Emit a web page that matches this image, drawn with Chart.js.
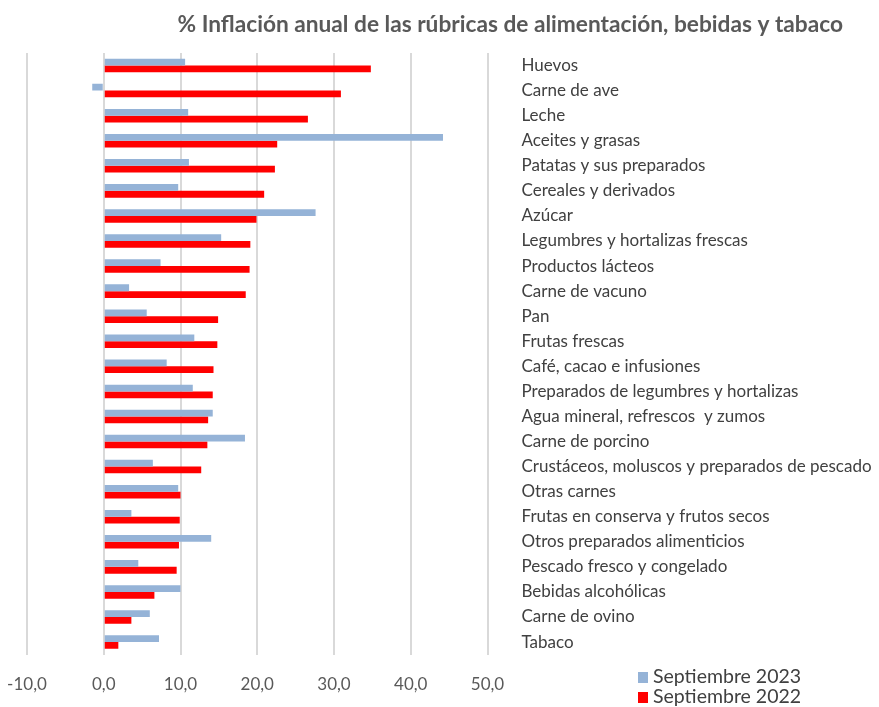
<!DOCTYPE html>
<html>
<head>
<meta charset="utf-8">
<script src="https://cdn.jsdelivr.net/npm/chart.js@4.4.1/dist/chart.umd.min.js"></script>
<style>
  html, body { margin: 0; padding: 0; background: #fff; }
</style>
</head>
<body>
<canvas id="inflChart" width="879" height="707"></canvas>
<script>
// Rubricas (de arriba a abajo)
const categories = [
    'Huevos', 'Carne de ave', 'Leche', 'Aceites y grasas', 'Patatas y sus preparados',
    'Cereales y derivados', 'Azúcar', 'Legumbres y hortalizas frescas', 'Productos lácteos',
    'Carne de vacuno', 'Pan', 'Frutas frescas', 'Café, cacao e infusiones',
    'Preparados de legumbres y hortalizas', 'Agua mineral, refrescos  y zumos', 'Carne de porcino',
    'Crustáceos, moluscos y preparados de pescado', 'Otras carnes', 'Frutas en conserva y frutos secos',
    'Otros preparados alimenticios', 'Pescado fresco y congelado', 'Bebidas alcohólicas',
    'Carne de ovino', 'Tabaco'
];

// % inflacion anual
const sep2023 = [10.6, -1.5, 11.0, 44.2, 11.1, 9.7, 27.6, 15.3, 7.4, 3.3, 5.6, 11.8,
                 8.2, 11.6, 14.2, 18.4, 6.4, 9.7, 3.6, 14.0, 4.5, 10.0, 6.0, 7.2];
const sep2022 = [34.8, 30.9, 26.6, 22.6, 22.3, 20.9, 19.9, 19.1, 19.0, 18.5, 14.9, 14.8,
                 14.3, 14.2, 13.6, 13.5, 12.7, 10.0, 9.9, 9.8, 9.5, 6.6, 3.6, 1.9];

const seriesNames = ['Septiembre 2023', 'Septiembre 2022'];
const xTicks = [-10, 0, 10, 20, 30, 40, 50];
const chartTitle = '% Inflación anual de las rúbricas de alimentación, bebidas y tabaco';

const FONT = 'Lato, "Open Sans", sans-serif';

// titulo alineado a la derecha y leyenda en dos filas abajo a la derecha
const titleAndLegend = {
    id: 'titleAndLegend',
    afterDraw(chart) {
        const ctx = chart.ctx;
        ctx.save();
        ctx.textBaseline = 'middle';

        ctx.font = 'bold 22.7px ' + FONT;
        ctx.textAlign = 'right';
        ctx.fillStyle = '#595959';
        ctx.fillText(chartTitle, 843, 25);

        ctx.font = '19.5px ' + FONT;
        ctx.textAlign = 'left';
        chart.data.datasets.forEach((ds, i) => {
            const y = 677 + i * 20;
            ctx.fillStyle = ds.backgroundColor;
            ctx.fillRect(638, y - 5, 10, 11);
            ctx.fillStyle = '#404040';
            ctx.fillText(ds.label, 653, y);
        });
        ctx.restore();
    }
};

new Chart(document.getElementById('inflChart'), {
    type: 'bar',
    data: {
        labels: categories,
        datasets: [
            { label: seriesNames[0], data: sep2023, backgroundColor: '#95b3d7',
              categoryPercentage: 0.54, barPercentage: 1.0 },
            { label: seriesNames[1], data: sep2022, backgroundColor: '#ff0000',
              categoryPercentage: 0.54, barPercentage: 1.0 }
        ]
    },
    options: {
        indexAxis: 'y',
        responsive: false,
        animation: false,
        layout: { padding: { left: 27, right: 0, bottom: 8, top: 53 } },
        scales: {
            x: {
                min: xTicks[0],
                max: xTicks[xTicks.length - 1],
                afterBuildTicks: (scale) => { scale.ticks = xTicks.map(v => ({ value: v })); },
                ticks: {
                    padding: 4,
                    color: '#595959',
                    font: { family: FONT, size: 17 },
                    callback: (v) => Number(v).toFixed(1).replace('.', ',')
                },
                grid: { color: '#d9d9d9', lineWidth: 2, drawTicks: true, tickLength: 16,
                        tickColor: 'rgba(0,0,0,0)' },
                border: { display: false }
            },
            y: {
                position: 'right',
                afterFit: (scale) => { scale.width = 391.5; },
                ticks: {
                    crossAlign: 'near',
                    padding: 4,
                    color: '#404040',
                    font: { family: FONT, size: 17 },
                    autoSkip: false
                },
                grid: { display: false, drawTicks: true, tickLength: 30 },
                border: { display: false }
            }
        },
        plugins: {
            legend: { display: false },
            tooltip: { enabled: false },
            title: { display: false }
        }
    },
    plugins: [titleAndLegend]
});
</script>
</body>
</html>
